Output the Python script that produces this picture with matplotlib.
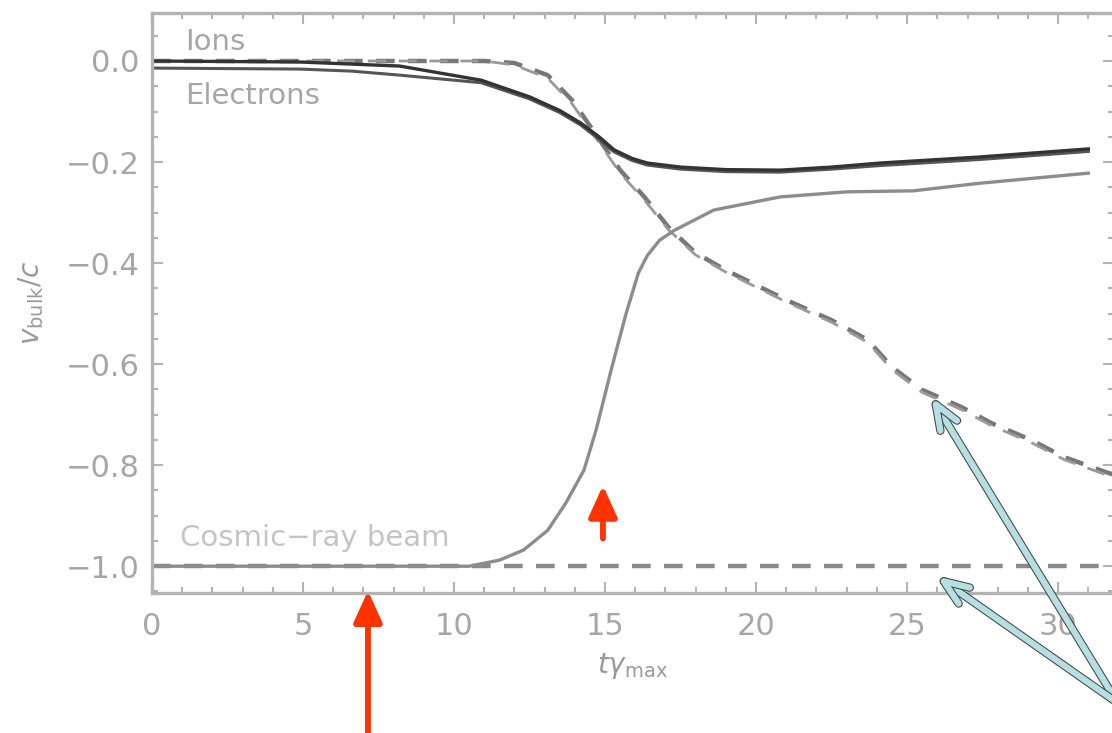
import numpy as np
import matplotlib.pyplot as plt
import matplotlib.ticker as ticker
import matplotlib.patheffects as pe

# values (x in t*gamma_max, y in v_bulk/c)
t_ions = [0.0, 4.9, 8.2, 10.9, 12.5, 13.5, 14.2, 14.8, 15.3, 15.9, 16.4, 17.5, 19.0, 20.8, 22.5, 24.1, 27.4, 31.0]
v_ions = [0.0, -0.002, -0.010, -0.038, -0.071, -0.098, -0.123, -0.150, -0.176, -0.193, -0.202, -0.210, -0.215, -0.216, -0.210, -0.202, -0.190, -0.174]

t_elec = [0.0, 4.9, 6.6, 8.2, 10.9, 12.5, 13.5, 14.2, 14.8, 15.3, 15.9, 16.4, 17.5, 19.0, 20.8, 22.5, 24.1, 27.4, 31.0]
v_elec = [-0.014, -0.016, -0.020, -0.028, -0.043, -0.075, -0.102, -0.127, -0.155, -0.180, -0.197, -0.206, -0.214, -0.219, -0.220, -0.214, -0.207, -0.195, -0.179]

t_beam = [0.0, 10.5, 11.5, 12.3, 13.1, 13.7, 14.3, 14.7, 15.2, 15.7, 16.1, 16.4, 16.8, 17.3, 18.6, 20.8, 23.0, 25.2, 27.4, 31.0]
v_beam = [-1.0, -1.0, -0.988, -0.968, -0.929, -0.875, -0.810, -0.731, -0.612, -0.499, -0.420, -0.385, -0.355, -0.335, -0.295, -0.269, -0.259, -0.257, -0.242, -0.222]

t_ions_d = [0.0, 11.0, 12.0, 13.1, 13.9, 14.6, 15.5, 16.3, 17.1, 18.0, 19.0, 21.0, 22.5, 23.7, 24.5, 25.5, 26.8, 27.8, 29.1, 30.2, 31.4, 31.8]
v_ions_d = [0.0, 0.0, -0.004, -0.028, -0.077, -0.137, -0.216, -0.269, -0.329, -0.380, -0.414, -0.473, -0.513, -0.552, -0.606, -0.651, -0.685, -0.717, -0.750, -0.784, -0.810, -0.818]
v_elec_d = [0.0, 0.0, -0.008, -0.034, -0.084, -0.144, -0.222, -0.275, -0.334, -0.384, -0.418, -0.477, -0.517, -0.557, -0.611, -0.656, -0.690, -0.722, -0.755, -0.789, -0.815, -0.823]

t_beam_d = [0.0, 31.8]
v_beam_d = [-1.0, -1.0]

labels = ["Ions", "Electrons", "Cosmic\u2212ray beam"]

grey = '#a6a6a6'


def minus_fmt(v, pos):
    return ('%.1f' % v).replace('-', '\u2212')


def main():
    fig = plt.figure(figsize=(11.12, 7.33), dpi=100)
    ax = fig.add_axes([152 / 1112, 140 / 733, 962 / 1112, 580 / 733])

    ax.plot(t_beam_d, v_beam_d, color='#8a8a8a', lw=3.2, dashes=[4.2, 3.0])
    ax.plot(t_ions_d, v_ions_d, color='#777777', lw=3.2, dashes=[4.2, 3.0])
    ax.plot(t_ions_d, v_elec_d, color='#9a9a9a', lw=2.0, dashes=[6.5, 4.6])
    ax.plot(t_beam, v_beam, color='#8c8c8c', lw=2.4)
    ax.plot(t_elec, v_elec, color='#555555', lw=2.2)
    ax.plot(t_ions, v_ions, color='#333333', lw=2.4)

    ax.set_xlim(0, 31.85)
    ax.set_ylim(-1.053, 0.095)

    ax.xaxis.set_major_locator(ticker.MultipleLocator(5))
    ax.xaxis.set_minor_locator(ticker.MultipleLocator(1))
    ax.yaxis.set_major_locator(ticker.MultipleLocator(0.2))
    ax.yaxis.set_minor_locator(ticker.MultipleLocator(0.05))
    ax.yaxis.set_major_formatter(ticker.FuncFormatter(minus_fmt))

    for s in ax.spines.values():
        s.set_color('#b3b3b3')
        s.set_linewidth(2.4)
    ax.tick_params(which='both', direction='in', top=True, right=True, color='#b3b3b3', width=1.5)
    ax.tick_params(which='major', length=8, labelsize=22, labelcolor=grey)
    ax.tick_params(which='minor', length=4)
    ax.tick_params(axis='x', which='major', pad=14)
    ax.tick_params(axis='y', which='major', pad=9)

    ax.set_xlabel(r'$t\gamma_{\rm max}$', fontsize=20, color='#999999', labelpad=7)
    ax.set_ylabel(r'$v_{\rm bulk}/c$', fontsize=20, color='#999999', labelpad=14)

    ax.text(1.1, 0.038, labels[0], fontsize=21, color=grey, va='center')
    ax.text(1.1, -0.069, labels[1], fontsize=21, color=grey, va='center')
    ax.text(0.93, -0.945, labels[2], fontsize=21, color='#c4c4c4', va='center')

    # red markers
    red = dict(arrowstyle='-|>,head_width=0.43,head_length=0.95', color='#ff3300',
               lw=4.2, shrinkA=0, shrinkB=0, mutation_scale=20)
    ax.annotate('', xy=(7.15, 0.004), xycoords=('data', 'axes fraction'),
                xytext=(7.15, 0.0), textcoords=('data', 'figure fraction'), arrowprops=red)
    ax.annotate('', xy=(14.93, -0.84), xytext=(14.93, -0.945), arrowprops=red)

    # light blue pointers
    blue = dict(arrowstyle='->,head_width=0.35,head_length=0.9', color='#b5dfe2',
                lw=4.5, shrinkA=0, shrinkB=0, mutation_scale=20,
                path_effects=[pe.Stroke(linewidth=6.0, foreground='#444444'), pe.Normal()])
    ax.annotate('', xy=(25.8, -0.665), xytext=(1.005, 0.041), textcoords='figure fraction',
                arrowprops=blue, annotation_clip=False)
    ax.annotate('', xy=(25.98, -1.02), xytext=(1.005, 0.041), textcoords='figure fraction',
                arrowprops=blue, annotation_clip=False)

    fig.savefig('out.png', dpi=100)


if __name__ == "__main__":
    main()
